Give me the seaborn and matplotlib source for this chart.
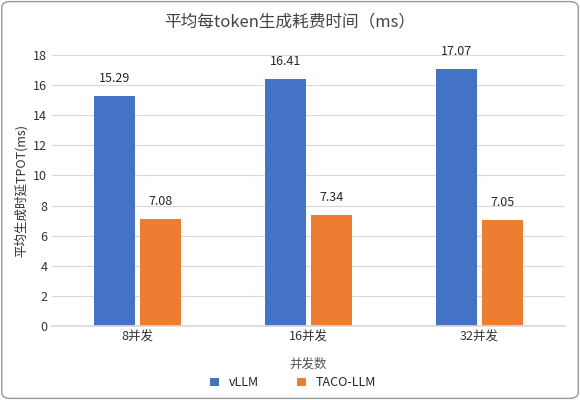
import matplotlib
matplotlib.use("Agg")
import matplotlib.pyplot as plt
import seaborn as sns
import pandas as pd
from matplotlib.patches import FancyBboxPatch

categories = ["8并发", "16并发", "32并发"]
series = ["vLLM", "TACO-LLM"]
vllm = [15.29, 16.41, 17.07]
taco = [7.08, 7.34, 7.05]

sns.set_theme(style="white")
plt.rcParams['font.family'] = ['Noto Sans CJK SC', 'DejaVu Sans']

df = pd.DataFrame({
    "cat": categories * 2,
    "series": [series[0]] * 3 + [series[1]] * 3,
    "val": vllm + taco,
})

fig = plt.figure(figsize=(5.8, 4), dpi=100)
fig.patches.append(FancyBboxPatch((0.003, 0.004), 0.994, 0.992, boxstyle="round,pad=0,rounding_size=0.015",
                                  transform=fig.transFigure, fill=False, edgecolor="#999999", lw=1))
ax = fig.add_axes([0.09, 0.185, 0.884, 0.6775])
sns.barplot(data=df, x="cat", y="val", hue="series", palette=["#4472C4", "#ED7D31"],
            width=0.54, gap=0.1, saturation=1, linewidth=0, ax=ax, legend=True)
ax.set_ylim(0, 18)
ax.set_yticks(range(0, 19, 2))
ax.yaxis.grid(True, color="#d9d9d9", lw=0.8)
ax.set_axisbelow(True)
for s in ["top", "right", "left"]:
    ax.spines[s].set_visible(False)
ax.spines["bottom"].set_color("#d9d9d9")
ax.tick_params(axis="both", labelsize=9, length=0, colors="#333333")
for c in ax.containers:
    ax.bar_label(c, fmt="%.2f", padding=8, fontsize=9)
ax.set_xlabel("并发数", fontsize=9, color="#555555", labelpad=10)
ax.set_ylabel("平均生成时延TPOT(ms)", fontsize=9, color="#333333")
fig.text(0.5, 0.945, "平均每token生成耗费时间（ms）", ha="center", va="center", fontsize=12, color="#444444")
ax.legend(loc="center", bbox_to_anchor=(0.47, -0.21), ncol=2, frameon=False, fontsize=9,
          handlelength=0.7, handleheight=0.7, columnspacing=3)
fig.savefig("out.png", dpi=100)
